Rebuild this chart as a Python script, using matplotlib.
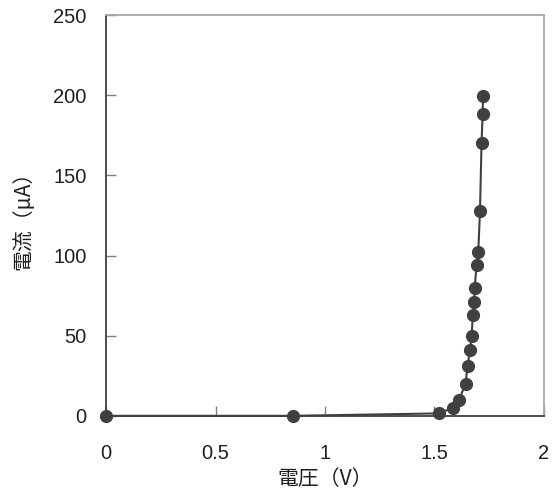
import matplotlib
matplotlib.use('Agg')
from matplotlib import pyplot as plt

plt.rcParams['font.family'] = ['Noto Sans CJK JP', 'DejaVu Sans']

#Data
voltage = [0, 0.854, 1.522, 1.583, 1.612, 1.642, 1.651, 1.662, 1.67, 1.675,
           1.681, 1.684, 1.692, 1.70, 1.708, 1.715, 1.72, 1.722]
current = [0, 0, 1.5, 5, 10, 20, 31, 41, 50, 63,
           71, 80, 94, 102, 128, 170, 188, 199.5]

xticks = [0, 0.5, 1, 1.5, 2]
xticklabels = ['0', '0.5', '1', '1.5', '2']
yticks = [0, 50, 100, 150, 200, 250]

#Plot
fig = plt.figure(figsize=(5.59, 5.04), dpi=100)
ax = fig.add_axes([0.19, 0.175, 0.783, 0.795])
ax.plot(voltage, current, color='#404040', linewidth=1.5, marker='o',
        markersize=8.5, markerfacecolor='#404040', markeredgecolor='#404040',
        clip_on=False, zorder=3)
ax.set_xlim(0, 2)
ax.set_ylim(0, 250)
ax.set_xticks(xticks)
ax.set_xticklabels(xticklabels)
ax.set_yticks(yticks)

ax.spines['left'].set_color('#404040')
ax.spines['bottom'].set_color('#404040')
ax.spines['top'].set_color('#a8a8a8')
ax.spines['right'].set_color('#a8a8a8')
for s in ax.spines.values():
    s.set_linewidth(1.3)

ax.tick_params(axis='both', direction='in', length=7, width=1, color='#808080',
               labelsize=14.5, labelcolor='#202020')
ax.tick_params(axis='y', pad=14)
ax.tick_params(axis='x', pad=20)
for lbl in ax.get_xticklabels() + ax.get_yticklabels():
    lbl.set_family(['Liberation Sans', 'DejaVu Sans'])

ax.set_xlabel('電圧（V）', fontsize=15, color='#202020', labelpad=4)
ax.set_ylabel('電流（μA）', fontsize=15, color='#202020', labelpad=14)

fig.savefig('out.png', dpi=100)
